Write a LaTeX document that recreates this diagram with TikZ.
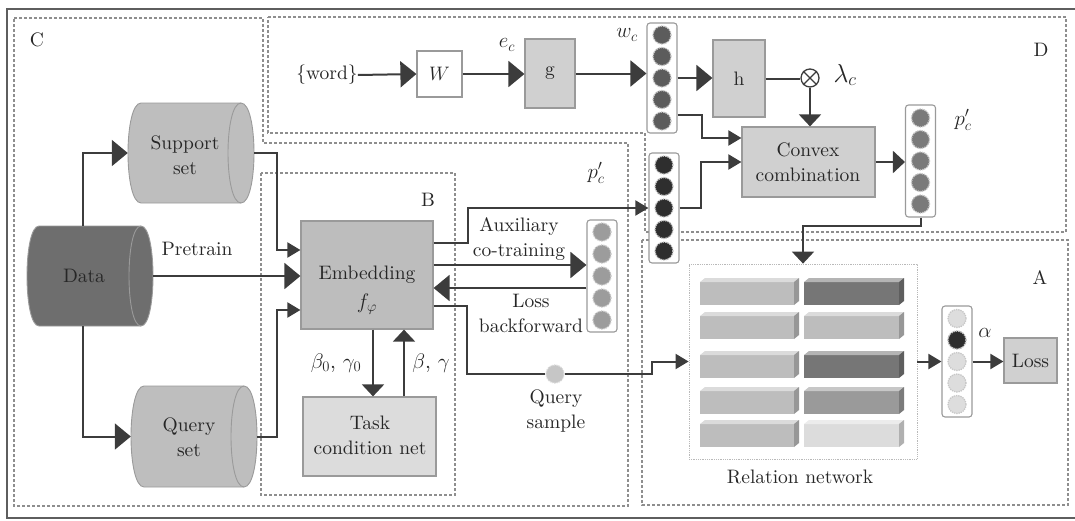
\RequirePackage{fix-cm}
\documentclass[tikz,border=0pt]{standalone}
\usepackage{amsmath}
\usepackage{fontspec}
\setmainfont{lmroman10-regular.otf}[ItalicFont=lmroman10-italic.otf, BoldFont=lmroman10-bold.otf]
\usetikzlibrary{arrows.meta,calc}

\definecolor{ink}{HTML}{3C3C3C}
\definecolor{framec}{HTML}{5E5E5E}
\definecolor{dashc}{HTML}{8E8E8E}
\definecolor{edgec}{HTML}{9A9A9A}
\definecolor{embfill}{HTML}{BDBDBD}
\definecolor{boxfill}{HTML}{D0D0D0}
\definecolor{taskfill}{HTML}{DCDCDC}
\definecolor{datafill}{HTML}{6E6E6E}
\definecolor{setfill}{HTML}{BEBEBE}
\definecolor{barlight}{HTML}{BDBDBD}
\definecolor{bardark}{HTML}{767676}
\definecolor{barmid}{HTML}{9A9A9A}
\definecolor{barpale}{HTML}{DCDCDC}
\definecolor{dotaux}{HTML}{9C9C9C}
\definecolor{dotdark}{HTML}{2E2E2E}
\definecolor{dotw}{HTML}{5C5C5C}
\definecolor{dotp}{HTML}{7A7A7A}
\definecolor{dotpale}{HTML}{DDDDDD}

\tikzset{
  txt/.style={font=\fontsize{19.5}{25}\selectfont},
  lbl/.style={txt, text=black!85, inner sep=0pt, align=center},
  mlbl/.style={lbl, font=\fontsize{21}{25}\selectfont},
  wire/.style={draw=ink, line width=2pt},
  bigtip/.style={wire, -{Triangle[length=16pt,width=26pt]}},
  midtip/.style={wire, -{Triangle[length=12pt,width=22pt]}},
  smalltip/.style={wire, -{Triangle[length=13pt,width=15pt]}},
  region/.style={draw=dashc, line width=1.4pt, dash pattern=on 3pt off 2pt},
  gbox/.style={txt, text=black!85, draw=edgec, line width=1.2pt, fill=boxfill, inner sep=0pt},
  vecbox/.style={draw=edgec, line width=1.1pt, fill=white, rounded corners=3pt,
                 minimum width=30pt, inner sep=0pt},
  dot/.style={circle, inner sep=0pt, minimum size=18pt, draw=gray!45,
              line width=1.3pt, densely dotted}
}

% horizontal drum: left, top, right, bottom, fill, end radius
\newcommand\drum[6]{%
  \filldraw[fill=#5, draw=edgec, line width=0.9pt]
    (#1+#6,#2) -- (#3-#6,#2)
    .. controls (#3+#6*0.333,#2) and (#3+#6*0.333,#4) .. (#3-#6,#4)
    -- (#1+#6,#4)
    .. controls (#1-#6*0.333,#4) and (#1-#6*0.333,#2) .. (#1+#6,#2) -- cycle;
  \draw[draw=edgec, line width=0.9pt]
    (#3-#6,#2) .. controls (#3-#6*2.333,#2) and (#3-#6*2.333,#4) .. (#3-#6,#4);
}

% bevelled bar of the relation network: x0, top, x1, colour
\newcommand\rnbar[4]{%
  \fill[#4] (#1,#2+4) rectangle (#3-5,#2+27);
  \fill[#4!55!white] (#1,#2+4) -- (#1+5,#2) -- (#3,#2) -- (#3-5,#2+4) -- cycle;
  \fill[#4!80!black] (#3-5,#2+4) -- (#3,#2) -- (#3,#2+23) -- (#3-5,#2+27) -- cycle;
}

\begin{document}
\begin{tikzpicture}[x=1pt,y=-1pt]
\useasboundingbox (0,0) rectangle (1075,520);

% outer frame
\draw[framec, line width=2pt] (7,9) rectangle (1082,518);

% dashed regions
\draw[region] (14,18) -- (263,18) -- (263,143) -- (628,143) -- (628,506) -- (14,506) -- cycle;
\draw[region] (268,17) -- (1066,17) -- (1066,232) -- (645,232) -- (645,133) -- (268,133) -- cycle;
\draw[region] (261,173) rectangle (455,495);
\draw[region] (642,240) rectangle (1068,505);

\node[lbl] (labC) at (37,40) {C};
\node[lbl] (labD) at (1041,50) {D};
\node[lbl] (labB) at (428,200) {B};
\node[lbl] (labA) at (1040,278) {A};

% data sources
\drum{27}{226}{153}{326}{datafill}{12}
\drum{128}{103}{254}{203}{setfill}{13}
\drum{131}{386}{257}{487}{setfill}{13}
\node[minimum width=126pt, minimum height=100pt, inner sep=0pt] (data) at (90,276) {};
\node[minimum width=126pt, minimum height=100pt, inner sep=0pt] (supp) at (191,153) {};
\node[minimum width=126pt, minimum height=101pt, inner sep=0pt] (query) at (194,436.5) {};
\node[lbl] (dataText) at (84,276) {Data};
\node[lbl] (suppText) at (185,155) {Support\\set};
\node[lbl] (queryText) at (189,437) {Query\\set};

% embedding and task condition net
\node[gbox, fill=embfill, minimum width=132pt, minimum height=108pt] (emb) at (367,275) {};
\node[lbl] (embText) at (367,275) {Embedding};
\node[mlbl] (embSub) at (367,304) {$f_{\varphi}$};
\node[gbox, fill=taskfill, minimum width=133pt, minimum height=79pt] (task) at (369.5,436.5) {};
\node[lbl] (taskText) at (370,435) {Task\\condition net};

\node[lbl] (pretrain) at (197,249) {Pretrain};

\draw[bigtip] ([xshift=-7pt]data.north) |- (supp.west);
\draw[bigtip] ([xshift=-7pt]data.south) |- (query.west);
\draw[bigtip] (data.east) -- (data.east -| emb.west);
\draw[smalltip] (supp.east) -- ++(23,0) |- ($(emb.west)+(0,-25)$);
\draw[smalltip] (query.east) -- ++(20,0) |- ($(emb.west)+(0,35)$);

\coordinate (dn) at ($(emb.south)+(6,0)$);
\coordinate (up) at ($(emb.south)+(37,0)$);
\draw[midtip] (dn) -- (dn |- task.north);
\draw[midtip] (up |- task.north) -- (up);
\node[mlbl] (b0) at (336,363) {$\beta_0$, $\gamma_0$};
\node[mlbl] (b1) at (431,363) {$\beta$, $\gamma$};

% auxiliary head
\node[vecbox, minimum height=112pt] (aux) at (602,276) {};
\foreach \k in {1,...,5}
  {\node[dot, fill=dotaux] (ax\k) at ($(aux.center)+(0,{(\k-3)*22})$) {};}

\coordinate (e1) at ($(emb.east)+(0,-32)$);
\coordinate (e2) at ($(emb.east)+(0,-10)$);
\coordinate (e3) at ($(emb.east)+(0,13)$);
\coordinate (e4) at ($(emb.east)+(0,31)$);
\draw[bigtip] (e2) -- (e2 -| aux.west);
\draw[bigtip] (e3 -| aux.west) -- (e3);
\node[lbl] (auxText) at (519,239.5) {Auxiliary\\co-training};
\node[lbl] (lossBack) at (531,313.5) {Loss\\backforward};

% query sample
\node[circle, fill=gray!45, draw=gray!30, line width=1.3pt, densely dotted,
      minimum size=18pt, inner sep=0pt] (qs) at (555,374) {};
\node[lbl] (qsText) at (556,411) {Query\\sample};
\draw[wire] (e4) -- ++(33,0) |- (qs.west);

% prototype from images
\node[vecbox, minimum height=110pt] (pmid) at (664,208) {};
\foreach \k in {1,...,5}
  {\node[dot, fill=dotdark] (pm\k) at ($(pmid.center)+(0,{(\k-3)*21.5})$) {};}
\node[mlbl] (pmLab) at (596,173) {$p'_c$};
\draw[smalltip] (e1) -- ++(34,0) |- (pmid.west);

% word branch
\node[lbl] (word) at (327,75) {\{word\}};
\node[gbox, fill=white, minimum width=45pt, minimum height=46pt] (W) at (439.5,74) {$W$};
\node[gbox, minimum width=50pt, minimum height=69pt] (g) at (550,73.5) {g};
\node[vecbox, minimum height=110pt] (wvec) at (662,78) {};
\foreach \k in {1,...,5}
  {\node[dot, fill=dotw] (wc\k) at ($(wvec.center)+(0,{(\k-3)*21.5})$) {};}
\node[gbox, minimum width=52pt, minimum height=77pt] (h) at (739,78.5) {h};
\node[circle, draw=ink, line width=1.3pt, minimum size=18pt, inner sep=0pt, fill=white] (ot) at (810,78) {};
\draw[ink, line width=1.3pt] (ot.north west) -- (ot.south east) (ot.north east) -- (ot.south west);
\node[gbox, minimum width=133pt, minimum height=70pt] (convex) at (808.5,162) {};
\node[lbl] (convexText) at (808,162.5) {Convex\\combination};
\node[vecbox, minimum height=112pt] (pvec) at (920.5,161) {};
\foreach \k in {1,...,5}
  {\node[dot, fill=dotp] (pv\k) at ($(pvec.center)+(0,{(\k-3)*21.5})$) {};}

\node[mlbl] (ecLab) at (507,45) {$e_c$};
\node[mlbl] (wcLab) at (627,35) {$w_c$};
\node[lbl, font=\fontsize{26}{28}\selectfont] (lamLab) at (845,75) {$\lambda_c$};
\node[mlbl] (pvLab) at (963,120) {$p'_c$};

\draw[bigtip] (word.east) -- (W.west);
\draw[bigtip] (W.east) -- (W.east -| g.west);
\draw[bigtip] (g.east) -- (g.east -| wvec.west);
\draw[bigtip] (wvec.east) -- (wvec.east -| h.west);
\draw[wire] (h.east) -- (h.east -| ot.west);
\draw[midtip] (ot.south) -- (ot.south |- convex.north);
\coordinate (w5) at ($(wvec.east)+(0,37)$);
\draw[smalltip] (w5) -- ++(24,0) |- ($(convex.west)+(0,-24)$);
\draw[smalltip] (pmid.east) -- ++(21,0) |- (convex.west);
\draw[midtip] (convex.east) -- (convex.east -| pvec.west);

% relation network
\node[draw=gray!55, densely dotted, line width=0.8pt, fill=white,
      minimum width=228pt, minimum height=195pt, inner sep=0pt] (rel) at (803,361.5) {};
\foreach \yy in {278,312,351,387,420} {\rnbar{700}{\yy}{799}{barlight}}
\rnbar{804}{278}{904}{bardark}
\rnbar{804}{312}{904}{barlight}
\rnbar{804}{351}{904}{bardark}
\rnbar{804}{387}{904}{barmid}
\rnbar{804}{420}{904}{barpale}
\node[lbl] (relText) at (800,477) {Relation network};

\draw[midtip] (pvec.south) -- ++(0,8) -| (rel.north);
\draw[smalltip] (qs.east) -- ++(87,0) |- (rel.west);

% scores and loss
\node[vecbox, minimum height=111pt] (avec) at (957,361.5) {};
\foreach \k in {1,...,5}
  {\node[dot, fill=dotpale] (av\k) at ($(avec.center)+(0,{(\k-3)*21.5})$) {};}
\node[dot, fill=dotdark] (avHit) at (av2) {};
\node[mlbl] (alphaLab) at (985,333) {$\alpha$};
\node[gbox, minimum width=53pt, minimum height=45pt] (loss) at (1030.5,360.5) {Loss};
\draw[smalltip] (rel.east) -- (rel.east -| avec.west);
\draw[smalltip] (avec.east) -- (avec.east -| loss.west);
\end{tikzpicture}
\end{document}
